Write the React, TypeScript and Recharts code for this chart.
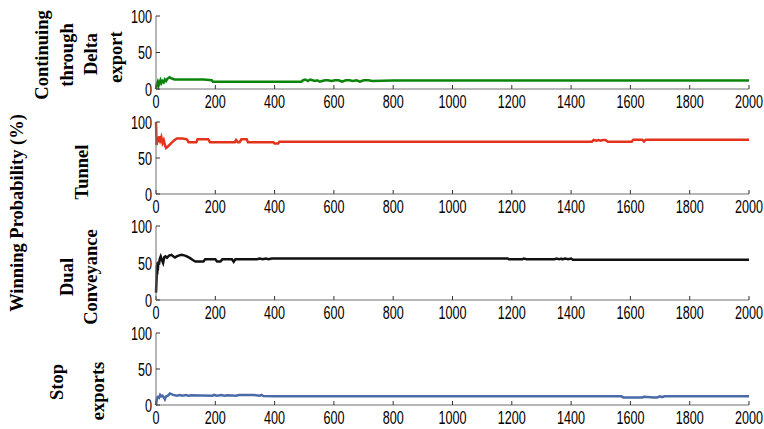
import React from "react";
import { LineChart, Line, XAxis, YAxis } from "recharts";

const X_TICKS = [0, 200, 400, 600, 800, 1000, 1200, 1400, 1600, 1800, 2000];
const Y_TICKS = [0, 50, 100];

// Continuing through Delta export
const GREEN_X = [0, 3, 6, 9, 12, 15, 18, 22, 26, 30, 34, 38, 42, 46, 50, 56, 62, 80, 120, 160, 188, 192, 200, 260, 340, 420, 490, 496, 504, 512, 520, 528, 536, 544, 552, 560, 570, 580, 592, 604, 616, 628, 640, 652, 664, 676, 688, 700, 716, 730, 800, 1000, 1400, 1800, 2000];
const GREEN_Y = [0, 7, 10, 5, 9, 12, 8, 11, 9, 13, 11, 14, 15, 16, 15, 14, 13, 13, 13, 13, 12, 10, 10, 10, 10, 10, 10, 12, 13, 11, 13, 12, 11, 12, 10, 11, 12, 12, 11, 12, 12, 10, 12, 12, 11, 12, 10, 12, 12, 11, 11.5, 11.5, 11.5, 11.5, 11.5];

// Tunnel
const RED_X = [0, 2, 4, 7, 10, 14, 18, 22, 26, 30, 34, 40, 50, 60, 70, 90, 104, 110, 136, 140, 176, 182, 266, 270, 276, 282, 288, 306, 310, 396, 400, 412, 416, 800, 1200, 1470, 1476, 1486, 1492, 1500, 1506, 1516, 1524, 1530, 1604, 1610, 1640, 1646, 1652, 1658, 1800, 2000];
const RED_Y = [100, 68, 78, 72, 80, 74, 79, 71, 75, 68, 64, 66, 70, 74, 77, 77, 76, 72, 72, 76, 76, 72, 72, 75, 72, 72, 76, 76, 72, 72, 70, 70, 72.5, 72.5, 72.5, 72.5, 75, 74, 75, 74, 75, 75, 72.5, 72.5, 72.5, 75.5, 75.5, 73, 75.5, 75.5, 75.5, 75.5];

// Dual Conveyance
const BLACK_X = [0, 2, 3, 4, 5, 6, 8, 10, 13, 16, 20, 24, 28, 32, 37, 44, 52, 58, 64, 70, 76, 86, 98, 104, 115, 124, 133, 160, 166, 200, 206, 217, 224, 256, 262, 268, 300, 340, 350, 360, 370, 380, 390, 400, 800, 1186, 1190, 1236, 1240, 1250, 1344, 1350, 1360, 1366, 1370, 1380, 1390, 1400, 1406, 2000];
const BLACK_Y = [10, 30, 47, 34, 50, 40, 52, 48, 56, 59, 54, 50, 58, 59, 57, 60, 61, 59, 57.5, 59, 60, 61, 60, 59, 56.6, 54, 52, 52, 55, 55, 52, 52, 55, 55, 51.6, 55, 55, 55, 56, 55, 56, 55, 56, 56, 56, 56, 55, 55, 56, 55, 55, 56, 55, 56, 55, 56, 55, 56, 54.3, 54.3];

// Stop exports
const BLUE_X = [0, 3, 6, 10, 14, 18, 22, 26, 30, 34, 40, 47, 52, 58, 70, 80, 90, 100, 110, 120, 190, 196, 206, 220, 230, 240, 270, 280, 300, 330, 350, 356, 362, 400, 800, 1200, 1570, 1576, 1640, 1646, 1680, 1690, 1700, 1706, 1716, 2000];
const BLUE_Y = [0, 9, 11, 10, 14, 12, 13, 11, 8, 12, 13, 16, 15, 14, 13, 14, 13, 14, 13, 13.5, 13, 14, 13, 14, 13, 13.5, 13, 14, 14, 14, 13, 14, 12.5, 12, 12, 12, 12, 10.5, 10.5, 11.5, 10.5, 10.5, 12, 11, 12, 12];

const toRows = (xs: number[], ys: number[]) => xs.map((x, i) => ({ x, y: ys[i] }));

const PANELS = [
  { top: 16, bottom: 89, color: "#0c840c", data: toRows(GREEN_X, GREEN_Y) },
  { top: 122, bottom: 194, color: "#e4321c", data: toRows(RED_X, RED_Y) },
  { top: 226, bottom: 300, color: "#111111", data: toRows(BLACK_X, BLACK_Y) },
  { top: 333, bottom: 405, color: "#4a6aa8", data: toRows(BLUE_X, BLUE_Y) },
];

const TICK_FONT = "Arial, 'Liberation Sans', sans-serif";
const LABEL_FONT = "'Times New Roman', 'Liberation Serif', serif";

const XTick = ({ x, y, payload }: any) => (
  <text
    transform={`translate(${x},${y + 19}) scale(1,1.45)`}
    textAnchor="middle"
    fontFamily={TICK_FONT}
    fontSize={12.6}
    fill="#000"
  >
    {payload.value}
  </text>
);

const YTick = ({ x, y, payload }: any) => (
  <text
    transform={`translate(${x},${y}) scale(1,1.45)`}
    y={4.5}
    textAnchor="end"
    fontFamily={TICK_FONT}
    fontSize={12.6}
    fill="#000"
  >
    {payload.value}
  </text>
);

// rotated labels on the left: [text, baseline x, centre y]
const SIDE_LABELS: [string, number, number][] = [
  ["Winning Probability (%)", 22.5, 213],
  ["Continuing", 48, 55],
  ["through", 72.5, 55],
  ["Delta", 97, 54],
  ["export", 122, 57],
  ["Tunnel", 88, 172],
  ["Dual", 72.5, 277],
  ["Conveyance", 97, 277],
  ["Stop", 62.5, 382],
  ["exports", 104, 391],
];

const AXIS = "#6e6e6e";
const TICKLINE = { stroke: "#333" };

function Panel({ top, bottom, color, data }: any) {
  const h = 10 + (bottom - top) + 25;
  return (
    <div style={{ position: "absolute", left: 0, top: top - 10 }}>
      <LineChart width={764} height={h} data={data} margin={{ top: 10, right: 15, bottom: 0, left: 0 }}>
        <XAxis
          xAxisId="b"
          dataKey="x"
          type="number"
          domain={[0, 2000]}
          ticks={X_TICKS}
          height={25}
          tickSize={-4}
          tickMargin={4}
          stroke={AXIS}
          tickLine={TICKLINE}
          tick={<XTick />}
          interval={0}
        />
        <XAxis
          xAxisId="t"
          orientation="top"
          dataKey="x"
          type="number"
          domain={[0, 2000]}
          ticks={X_TICKS}
          height={0}
          tickSize={-4}
          stroke={AXIS}
          tickLine={TICKLINE}
          tick={false}
          interval={0}
        />
        <YAxis
          yAxisId="l"
          dataKey="y"
          type="number"
          domain={[0, 100]}
          ticks={Y_TICKS}
          width={156}
          tickSize={-4}
          tickMargin={8}
          stroke={AXIS}
          tickLine={TICKLINE}
          tick={<YTick />}
          interval={0}
        />
        <YAxis
          yAxisId="r"
          orientation="right"
          dataKey="y"
          type="number"
          domain={[0, 100]}
          ticks={Y_TICKS}
          width={0}
          tickSize={-4}
          stroke={AXIS}
          tickLine={TICKLINE}
          tick={false}
          interval={0}
        />
        <Line
          xAxisId="b"
          yAxisId="l"
          dataKey="y"
          type="linear"
          stroke={color}
          strokeWidth={2.5}
          dot={false}
          isAnimationActive={false}
        />
      </LineChart>
    </div>
  );
}

export default function App() {
  return (
    <div style={{ position: "absolute", left: 0, top: 0, width: 764, height: 429, background: "#fff" }}>
      {PANELS.map((p, i) => (
        <Panel key={i} {...p} />
      ))}
      <svg width={150} height={429} style={{ position: "absolute", left: 0, top: 0 }}>
        {SIDE_LABELS.map(([t, bx, cy]) => (
          <text
            key={t}
            transform={`translate(${bx},${cy}) rotate(-90)`}
            textAnchor="middle"
            fontFamily={LABEL_FONT}
            fontWeight="bold"
            fontSize={18.5}
            fill="#000"
          >
            {t}
          </text>
        ))}
      </svg>
    </div>
  );
}
